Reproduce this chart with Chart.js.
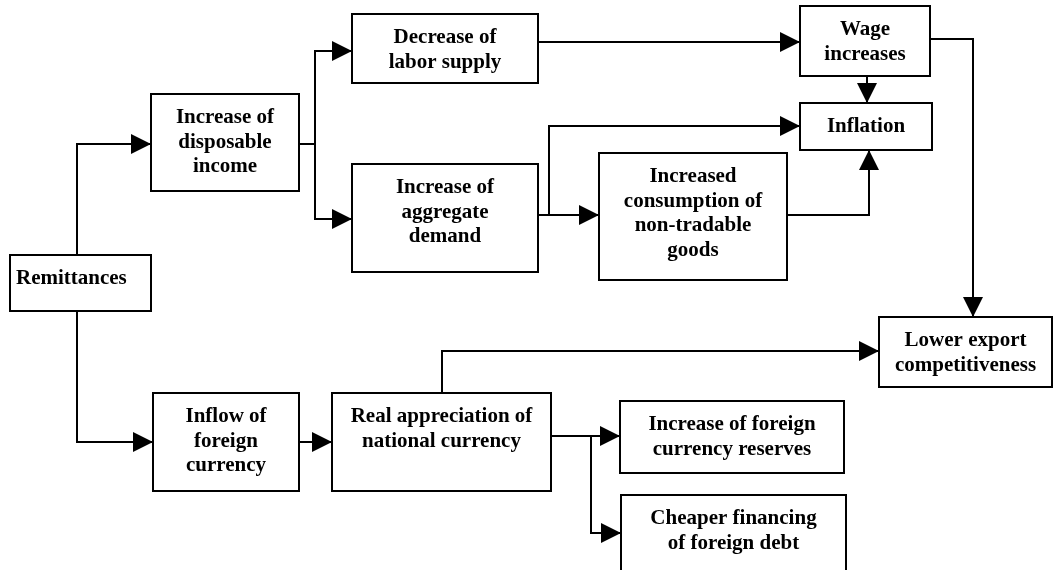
<!DOCTYPE html>
<html>
<head>
<meta charset="utf-8">
<script src="https://cdn.jsdelivr.net/npm/chart.js@4/dist/chart.umd.min.js"></script>
<style>
  html, body { margin: 0; padding: 0; background: #fff; }
  #wrap { width: 1053px; height: 570px; position: relative; }
</style>
</head>
<body>
<div id="wrap"><canvas id="flowChart"></canvas></div>
<script>
// boxes of the flow diagram (chart units: x 0..1053, y 0..570 from the top)
const nodeLabels = [
    ["Remittances"],
    ["Increase of", "disposable", "income"],
    ["Decrease of", "labor supply"],
    ["Increase of", "aggregate", "demand"],
    ["Increased", "consumption of", "non-tradable", "goods"],
    ["Wage", "increases"],
    ["Inflation"],
    ["Lower export", "competitiveness"],
    ["Inflow of", "foreign", "currency"],
    ["Real appreciation of", "national currency"],
    ["Increase of foreign", "currency reserves"],
    ["Cheaper financing", "of foreign debt"],
];
const nodeBoxes = [
    [10, 255, 151, 311],
    [151, 94, 299, 191],
    [352, 14, 538, 83],
    [352, 164, 538, 272],
    [599, 153, 787, 280],
    [800, 6, 930, 76],
    [800, 103, 932, 150],
    [879, 317, 1052, 387],
    [153, 393, 299, 491],
    [332, 393, 551, 491],
    [620, 401, 844, 473],
    [621, 495, 846, 574],
];
const nodeAlign = ["left", "center", "center", "center", "center", "center",
                   "center", "center", "center", "center", "center", "center"];

// connectors, each ends with an arrow head
const edges = [
    [[77, 255], [77, 144], [151, 144]],
    [[77, 311], [77, 442], [153, 442]],
    [[299, 144], [315, 144], [315, 51], [352, 51]],
    [[315, 144], [315, 219], [352, 219]],
    [[538, 42], [800, 42]],
    [[538, 215], [599, 215]],
    [[549, 215], [549, 126], [800, 126]],
    [[867, 76], [867, 103]],
    [[930, 39], [973, 39], [973, 317]],
    [[787, 215], [869, 215], [869, 150]],
    [[299, 442], [332, 442]],
    [[442, 393], [442, 351], [879, 351]],
    [[551, 436], [620, 436]],
    [[591, 436], [591, 533], [621, 533]],
];

const FONT = "bold 21px 'Liberation Serif', 'Times New Roman', serif";

const datasets = edges.map(pts => ({
    data: pts.map(p => ({ x: p[0], y: p[1] })),
    showLine: true,
    borderColor: "#000",
    borderWidth: 2,
    pointRadius: 0,
    fill: false,
    tension: 0,
}));

// boxes, texts and arrow heads
const flowPlugin = {
    id: "flow",
    afterDatasetsDraw(chart) {
        const c = chart.ctx;
        const sx = chart.scales.x, sy = chart.scales.y;
        c.save();
        c.strokeStyle = "#000";
        c.fillStyle = "#000";
        c.lineWidth = 2;

        nodeBoxes.forEach((b, i) => {
            const x0 = sx.getPixelForValue(b[0]), x1 = sx.getPixelForValue(b[2]);
            const y0 = sy.getPixelForValue(b[1]), y1 = sy.getPixelForValue(b[3]);
            c.fillStyle = "#fff";
            c.fillRect(x0, y0, x1 - x0, y1 - y0);
            c.strokeRect(x0, y0, x1 - x0, y1 - y0);
            c.fillStyle = "#000";
            c.font = FONT;
            c.textBaseline = "alphabetic";
            c.textAlign = nodeAlign[i];
            const tx = nodeAlign[i] === "left" ? x0 + 6 : (x0 + x1) / 2;
            nodeLabels[i].forEach((line, k) => {
                c.fillText(line, tx, y0 + 29 + k * 24.5);
            });
        });

        edges.forEach(pts => {
            const a = pts[pts.length - 2], b = pts[pts.length - 1];
            const ax = sx.getPixelForValue(a[0]), ay = sy.getPixelForValue(a[1]);
            const bx = sx.getPixelForValue(b[0]), by = sy.getPixelForValue(b[1]);
            const ang = Math.atan2(by - ay, bx - ax);
            const len = 20, half = 10;
            c.beginPath();
            c.moveTo(bx, by);
            c.lineTo(bx - len * Math.cos(ang) - half * Math.sin(ang), by - len * Math.sin(ang) + half * Math.cos(ang));
            c.lineTo(bx - len * Math.cos(ang) + half * Math.sin(ang), by - len * Math.sin(ang) - half * Math.cos(ang));
            c.closePath();
            c.fill();
        });
        c.restore();
    }
};

const flowChart = new Chart(document.getElementById("flowChart").getContext("2d"), {
    type: "scatter",
    data: { datasets },
    options: {
        responsive: true,
        maintainAspectRatio: false,
        animation: false,
        layout: { padding: 0 },
        plugins: { legend: { display: false }, tooltip: { enabled: false } },
        scales: {
            x: { type: "linear", min: 0, max: 1053, display: false },
            y: { type: "linear", min: 0, max: 570, reverse: true, display: false },
        },
    },
    plugins: [flowPlugin],
});
</script>
</body>
</html>
